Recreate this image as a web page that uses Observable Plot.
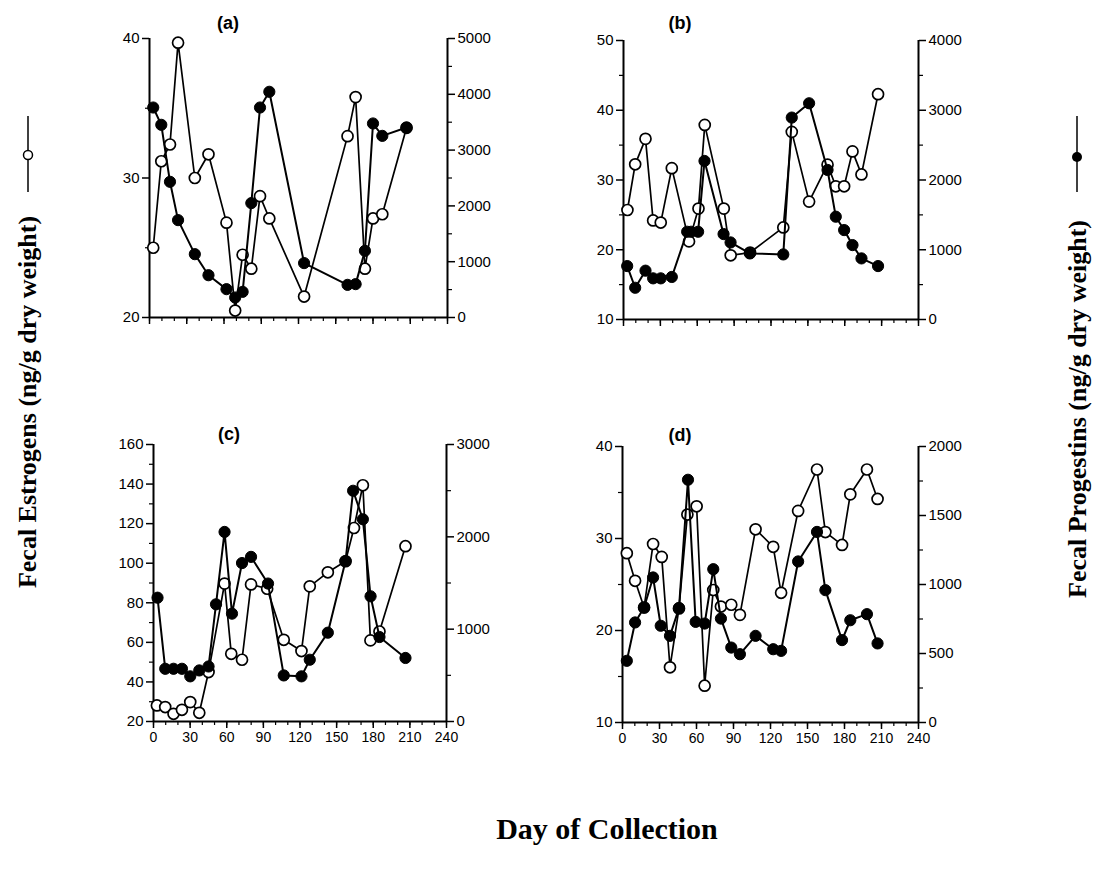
<!DOCTYPE html>
<html><head><meta charset="utf-8">
<script src="https://cdn.jsdelivr.net/npm/d3@7"></script>
<script src="https://cdn.jsdelivr.net/npm/@observablehq/plot@0.6"></script>
<style>
body{margin:0;background:#fff;}
#root{position:relative;width:1101px;height:871px;overflow:hidden;background:#fff;}
.panel{position:absolute;}
.ttl{position:absolute;font:bold 18px "Liberation Sans",Arial,sans-serif;transform:translateX(-50%);line-height:18px;}
</style></head><body><div id="root"></div>
<script>
// ---- Data (day of collection, fecal estrogens = open, fecal progestins = filled) ----
const aEstDay = [3, 9.5, 16.5, 23, 36.5, 47.5, 62, 69, 75, 82, 89, 96.5, 124.5, 159.5, 166, 173.5, 180, 187.5, 207];
const aEst    = [25.0, 31.2, 32.4, 39.7, 30.0, 31.7, 26.8, 20.5, 24.5, 23.5, 28.7, 27.1, 21.5, 33.0, 35.8, 23.5, 27.1, 27.4, 33.6];
const aProDay = [3, 9.5, 16.5, 23, 36.5, 47.5, 62, 69, 75, 82, 89, 96.5, 124.5, 159.5, 166, 173.5, 180, 187.5, 207];
const aPro    = [3763, 3453, 2432, 1745, 1135, 758, 508, 358, 460, 2050, 3763, 4045, 975, 585, 598, 1195, 3477, 3255, 3405];

const bEstDay = [3.2, 9.5, 17.9, 24.1, 30.3, 39.3, 53.3, 61, 66.1, 81.6, 87.2, 103, 130, 136.9, 151, 166, 172.7, 179.5, 186.3, 193.6, 207.1];
const bEst    = [25.7, 32.25, 35.9, 24.2, 23.9, 31.7, 21.2, 25.9, 37.9, 25.9, 19.2, 19.6, 23.2, 36.9, 26.9, 32.2, 29.1, 29.1, 34.1, 30.8, 42.3];
const bProDay = [3, 9.5, 17.9, 24.1, 30.3, 39.3, 51.8, 55, 60.7, 65.9, 81.4, 87.1, 102.8, 130, 136.9, 151, 166, 172.7, 179.5, 186.3, 193.6, 207.1];
const bPro    = [766, 455, 700, 590, 590, 610, 1258, 1258, 1258, 2273, 1225, 1105, 947, 933, 2895, 3100, 2144, 1474, 1282, 1067, 876, 766];

const cEstDay = [2.8, 9.6, 16.4, 23.3, 30.1, 37.5, 45.1, 58.2, 63.7, 72.5, 79.9, 93.1, 106.7, 121.2, 128, 142.8, 157.3, 164.2, 171.5, 177.7, 185.1, 206.4];
const cEst    = [28.1, 27.3, 23.9, 25.9, 29.8, 24.4, 45.0, 89.7, 54.2, 51.2, 89.3, 87.1, 61.3, 55.6, 88.3, 95.4, 101, 117.8, 139.4, 61.0, 65.5, 108.6];
const cProDay = [3.3, 9.6, 16.4, 23.3, 30.1, 37.5, 45.1, 51.2, 58.2, 64.3, 72.5, 79.9, 93.8, 106.7, 121.2, 128, 142.8, 157.3, 163.5, 171.5, 177.8, 185.1, 206.4];
const cPro    = [1341, 571, 571, 571, 489, 553, 596, 1269, 2053, 1168, 1716, 1783, 1494, 499, 489, 669, 962, 1738, 2499, 2190, 1356, 915, 688];

const dEstDay = [3.5, 10.2, 17.5, 24.8, 31.8, 38.5, 45.8, 52.6, 60.1, 66.6, 73.6, 79.8, 88.2, 95.2, 107.9, 122.2, 128.6, 142.4, 157.7, 164.5, 178, 184.7, 198.2, 206.8];
const dEst    = [28.4, 25.4, 22.5, 29.4, 28.0, 16.0, 22.4, 32.6, 33.5, 14.0, 24.4, 22.6, 22.8, 21.7, 31.0, 29.1, 24.1, 33.0, 37.5, 30.7, 29.3, 34.8, 37.5, 34.3];
const dProDay = [3.5, 10.2, 17.5, 24.8, 31, 38.5, 45.8, 53.1, 59.3, 66.6, 73.6, 79.8, 88.2, 95.2, 107.9, 122.2, 128.6, 142.4, 157.7, 164.5, 178, 184.7, 198.2, 206.8];
const dPro    = [447, 725, 833, 1051, 701, 628, 829, 1759, 729, 717, 1111, 753, 543, 495, 628, 531, 519, 1167, 1381, 959, 597, 741, 785, 573];

const xTicks = [0, 30, 60, 90, 120, 150, 180, 210, 240];
const xMinor = d3.range(0, 241, 10);

const panels = [
  {label: "(a)", tx: 228, ty: 14, axL: 149, axR: 447, axT: 38, axB: 317, xLabels: false,
   yDom: [20, 40], yMajor: [20, 30, 40], yMinor: [25, 35],
   rDom: [0, 5000], rMajor: [0, 1000, 2000, 3000, 4000, 5000], rMinor: [500, 1500, 2500, 3500, 4500],
   estD: aEstDay, est: aEst, proD: aProDay, pro: aPro},
  {label: "(b)", tx: 680, ty: 14, axL: 623, axR: 918, axT: 40, axB: 319, xLabels: false,
   yDom: [10, 50], yMajor: [10, 20, 30, 40, 50], yMinor: [15, 25, 35, 45],
   rDom: [0, 4000], rMajor: [0, 1000, 2000, 3000, 4000], rMinor: [500, 1500, 2500, 3500],
   estD: bEstDay, est: bEst, proD: bProDay, pro: bPro},
  {label: "(c)", tx: 229, ty: 425, axL: 153, axR: 446, axT: 444, axB: 721, xLabels: true,
   yDom: [20, 160], yMajor: [20, 40, 60, 80, 100, 120, 140, 160], yMinor: [30, 50, 70, 90, 110, 130, 150],
   rDom: [0, 3000], rMajor: [0, 1000, 2000, 3000], rMinor: [500, 1500, 2500],
   estD: cEstDay, est: cEst, proD: cProDay, pro: cPro},
  {label: "(d)", tx: 680, ty: 426, axL: 622, axR: 918, axT: 446, axB: 722, xLabels: true,
   yDom: [10, 40], yMajor: [10, 20, 30, 40], yMinor: [15, 25, 35],
   rDom: [0, 2000], rMajor: [0, 500, 1000, 1500, 2000], rMinor: [250, 750, 1250, 1750],
   estD: dEstDay, est: dEst, proD: dProDay, pro: dPro}
];

const root = document.getElementById("root");
const mL = 60, mR = 70, mT = 30, mB = 40;
const baseStyle = {fontFamily: "'Liberation Sans', Arial, sans-serif", fontSize: "15px", background: "transparent", color: "black", overflow: "visible", maxWidth: "none"};

for (const p of panels) {
  const W = p.axR - p.axL + mL + mR, H = p.axB - p.axT + mT + mB;
  const estData = p.estD.map((d, i) => ({day: d, v: p.est[i]}));
  const proData = p.proD.map((d, i) => ({day: d, v: p.pro[i]}));
  const common = {width: W, height: H, marginLeft: mL, marginRight: mR, marginTop: mT, marginBottom: mB,
                  x: {domain: [0, 240]}, style: baseStyle};

  const left = Plot.plot({
    ...common,
    y: {domain: p.yDom},
    marks: [
      Plot.axisY({anchor: "left", ticks: p.yMajor, tickSize: 7, tickPadding: 3, label: null, strokeWidth: 1.5, fontSize: 15, tickFormat: d => String(d)}),
      Plot.axisY({anchor: "left", ticks: p.yMinor, tickSize: 4, text: null, label: null, strokeWidth: 1.2}),
      Plot.axisX({anchor: "bottom", ticks: xTicks, tickSize: 7, tickPadding: 4, label: null, strokeWidth: 1.5, fontSize: 14,
                  tickFormat: p.xLabels ? (d => String(d)) : (() => "")}),
      Plot.axisX({anchor: "bottom", ticks: xMinor, tickSize: 4, text: null, label: null, strokeWidth: 1.2}),
      Plot.ruleX([0], {strokeWidth: 2}),
      Plot.ruleY([p.yDom[0]], {strokeWidth: 2}),
      Plot.line(estData, {x: "day", y: "v", stroke: "black", strokeWidth: 1.7}),
      Plot.dot(estData, {x: "day", y: "v", r: 5.5, fill: "white", stroke: "black", strokeWidth: 1.7})
    ]
  });
  const right = Plot.plot({
    ...common,
    x: {domain: [0, 240], axis: null},
    y: {domain: p.rDom},
    marks: [
      Plot.axisY({anchor: "right", ticks: p.rMajor, tickSize: 7, tickPadding: 3, label: null, strokeWidth: 1.5, fontSize: 15, tickFormat: d => String(d)}),
      Plot.axisY({anchor: "right", ticks: p.rMinor, tickSize: 4, text: null, label: null, strokeWidth: 1.2}),
      Plot.ruleX([240], {strokeWidth: 2}),
      Plot.line(proData, {x: "day", y: "v", stroke: "black", strokeWidth: 2}),
      Plot.dot(proData, {x: "day", y: "v", r: 5.6, fill: "black", stroke: "black", strokeWidth: 1})
    ]
  });
  for (const svg of [left, right]) {
    const div = document.createElement("div");
    div.className = "panel";
    div.style.left = (p.axL - mL) + "px";
    div.style.top = (p.axT - mT) + "px";
    div.appendChild(svg);
    root.appendChild(div);
  }
  const t = document.createElement("div");
  t.className = "ttl";
  t.textContent = p.label;
  t.style.left = p.tx + "px";
  t.style.top = p.ty + "px";
  root.appendChild(t);
}

// Outer titles and legend keys
const ov = d3.select(root).append("svg")
  .attr("width", 1101).attr("height", 871)
  .style("position", "absolute").style("left", 0).style("top", 0).style("pointer-events", "none");
const serif = "'Liberation Serif', 'Times New Roman', serif";
ov.append("text").attr("transform", "translate(36,402) rotate(-90)")
  .attr("text-anchor", "middle").attr("font-family", serif).attr("font-weight", "bold").attr("font-size", 26)
  .text("Fecal Estrogens (ng/g dry weight)");
ov.append("line").attr("x1", 28).attr("x2", 28).attr("y1", 116).attr("y2", 192).attr("stroke", "black").attr("stroke-width", 1.5);
ov.append("circle").attr("cx", 28).attr("cy", 155).attr("r", 4.5).attr("fill", "white").attr("stroke", "black").attr("stroke-width", 1.5);

ov.append("text").attr("transform", "translate(1086,409) rotate(-90)")
  .attr("text-anchor", "middle").attr("font-family", serif).attr("font-weight", "bold").attr("font-size", 26)
  .text("Fecal Progestins (ng/g dry weight)");
ov.append("line").attr("x1", 1077).attr("x2", 1077).attr("y1", 116).attr("y2", 192).attr("stroke", "black").attr("stroke-width", 1.5);
ov.append("circle").attr("cx", 1077).attr("cy", 157).attr("r", 5).attr("fill", "black");

ov.append("text").attr("x", 607).attr("y", 839).attr("text-anchor", "middle")
  .attr("font-family", serif).attr("font-weight", "bold").attr("font-size", 30)
  .text("Day of Collection");
</script>
</body></html>
